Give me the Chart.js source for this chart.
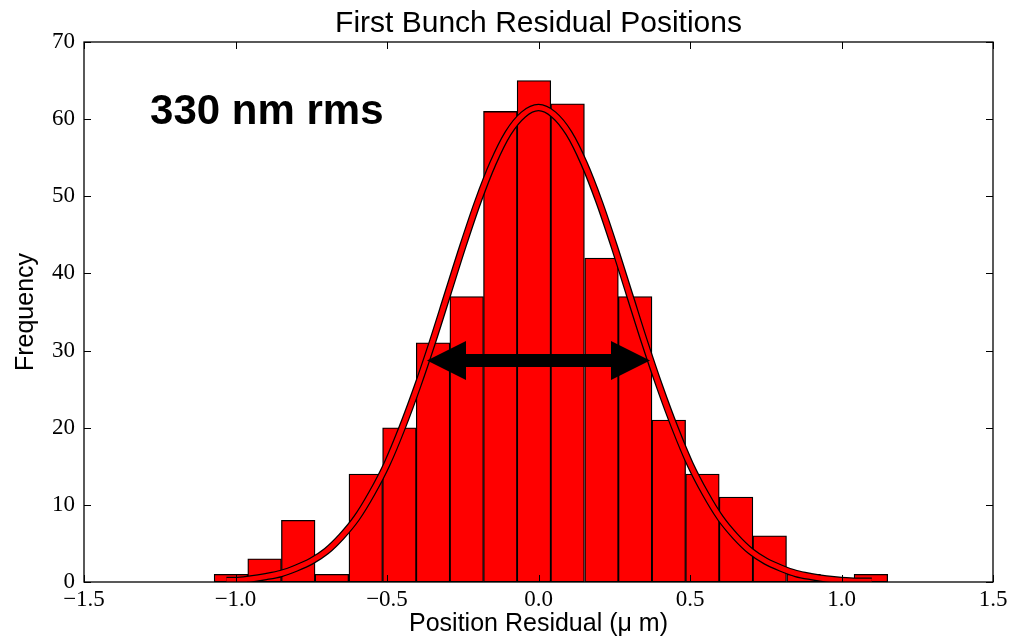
<!DOCTYPE html>
<html>
<head>
<meta charset="utf-8">
<script src="https://cdn.jsdelivr.net/npm/chart.js@4.4.1/dist/chart.umd.min.js"></script>
<style>
    html, body { margin: 0; padding: 0; background: #fff; }
    #wrap { width: 1019px; height: 637px; }
</style>
</head>
<body>
<div id="wrap"><canvas id="residualChart"></canvas></div>
<script>
const chartTitle = 'First Bunch Residual Positions';
const xAxisLabel = 'Position Residual (μ m)';
const yAxisLabel = 'Frequency';

// histogram bins (centres, um) and counts
const binCenters = [-1.015, -0.904, -0.793, -0.682, -0.570, -0.459, -0.348, -0.237, -0.126, -0.015,
                    0.096, 0.208, 0.319, 0.430, 0.541, 0.652, 0.763, 0.875, 0.986, 1.097];
const binCounts = [1, 3, 8, 1, 14, 20, 31, 37, 61, 65, 62, 42, 37, 21, 14, 11, 6, 1, 0, 1];

// fitted curve
const fitX = [-1.03, -1.0, -0.95, -0.9, -0.85, -0.8, -0.75, -0.7, -0.65, -0.6, -0.55, -0.5, -0.45, -0.4,
              -0.35, -0.3, -0.25, -0.2, -0.15, -0.1, -0.05, 0.0, 0.05, 0.1, 0.15, 0.2, 0.25, 0.3, 0.35,
              0.4, 0.45, 0.5, 0.55, 0.6, 0.65, 0.7, 0.75, 0.8, 0.85, 0.9, 0.95, 1.0, 1.05, 1.1];
const fitY = [0.2, 0.2, 0.4, 0.7, 1.1, 1.8, 2.7, 4.0, 5.9, 8.3, 11.5, 15.3, 20.0, 25.3,
              31.1, 37.3, 43.5, 49.3, 54.3, 58.2, 60.6, 61.5, 60.6, 58.2, 54.3, 49.3, 43.5, 37.3, 31.1,
              25.3, 20.0, 15.3, 11.5, 8.3, 5.9, 4.0, 2.7, 1.8, 1.1, 0.7, 0.4, 0.2, 0.1, 0.1];

// rms arrow and note
const arrowX = [-0.368, 0.368];
const arrowY = 28.7;
const noteText = '330 nm rms';
const noteX = -1.282;
const noteY = 59.4;

const xTicks = [-1.5, -1.0, -0.5, 0.0, 0.5, 1.0, 1.5];
const yTicks = [0, 10, 20, 30, 40, 50, 60, 70];

const tickFont = { family: 'Liberation Serif', size: 23 };
const labelFont = { family: 'Liberation Sans', size: 25, lineHeight: 1.0 };

const decorPlugin = {
    id: 'decor',
    afterDatasetsDraw(chart) {
        const ctx = chart.ctx;
        const xs = chart.scales.x, ys = chart.scales.y;
        const x1 = xs.getPixelForValue(arrowX[0]);
        const x2 = xs.getPixelForValue(arrowX[1]);
        const y = ys.getPixelForValue(arrowY);
        const head = 39, half = 19.5, shaft = 6.5;
        ctx.save();
        ctx.fillStyle = '#000';
        ctx.beginPath();
        ctx.moveTo(x1, y);
        ctx.lineTo(x1 + head, y - half);
        ctx.lineTo(x1 + head, y - shaft);
        ctx.lineTo(x2 - head, y - shaft);
        ctx.lineTo(x2 - head, y - half);
        ctx.lineTo(x2, y);
        ctx.lineTo(x2 - head, y + half);
        ctx.lineTo(x2 - head, y + shaft);
        ctx.lineTo(x1 + head, y + shaft);
        ctx.lineTo(x1 + head, y + half);
        ctx.closePath();
        ctx.fill();

        ctx.font = 'bold 42px "Liberation Sans"';
        ctx.textAlign = 'left';
        ctx.textBaseline = 'alphabetic';
        ctx.fillText(noteText, xs.getPixelForValue(noteX), ys.getPixelForValue(noteY));
        ctx.restore();
    },
    afterDraw(chart) {
        const ctx = chart.ctx;
        const a = chart.chartArea;
        const xs = chart.scales.x, ys = chart.scales.y;
        ctx.save();
        ctx.strokeStyle = '#000';
        ctx.lineWidth = 1;
        ctx.beginPath();
        xTicks.forEach(v => {
            const px = Math.round(xs.getPixelForValue(v)) + 0.5;
            ctx.moveTo(px, a.bottom); ctx.lineTo(px, a.bottom - 7);
            ctx.moveTo(px, a.top); ctx.lineTo(px, a.top + 7);
        });
        yTicks.forEach(v => {
            const py = Math.round(ys.getPixelForValue(v)) + 0.5;
            ctx.moveTo(a.left, py); ctx.lineTo(a.left + 7, py);
            ctx.moveTo(a.right, py); ctx.lineTo(a.right - 7, py);
        });
        ctx.stroke();
        ctx.lineWidth = 1.3;
        ctx.strokeRect(a.left, a.top, a.right - a.left, a.bottom - a.top);

        ctx.fillStyle = '#000';
        ctx.font = '30px "Liberation Sans"';
        ctx.textAlign = 'center';
        ctx.textBaseline = 'alphabetic';
        ctx.fillText(chartTitle, (a.left + a.right) / 2, 32);
        ctx.restore();
    }
};

function renderResidualChart() {
    const ctx = document.getElementById('residualChart').getContext('2d');

    new Chart(ctx, {
        type: 'bar',
        data: {
            datasets: [
                {
                    type: 'line',
                    label: 'fit',
                    data: fitX.map((x, i) => ({ x, y: fitY[i] })),
                    borderColor: '#ff0000',
                    borderWidth: 5,
                    pointRadius: 0,
                    cubicInterpolationMode: 'monotone',
                    order: 0
                },
                {
                    type: 'line',
                    label: 'fit outline',
                    data: fitX.map((x, i) => ({ x, y: fitY[i] })),
                    borderColor: '#000',
                    borderWidth: 7.5,
                    pointRadius: 0,
                    cubicInterpolationMode: 'monotone',
                    order: 1
                },
                {
                    label: 'Frequency',
                    data: binCenters.map((x, i) => ({ x, y: binCounts[i] })),
                    backgroundColor: '#ff0000',
                    borderColor: '#000',
                    borderWidth: 1.3,
                    borderSkipped: false,
                    barPercentage: 1,
                    categoryPercentage: 1,
                    grouped: false,
                    order: 2
                }
            ]
        },
        options: {
            responsive: true,
            maintainAspectRatio: false,
            animation: false,
            layout: { padding: { left: 0, right: 26, top: 42, bottom: 0 } },
            plugins: {
                legend: { display: false },
                tooltip: { enabled: false },
                title: { display: false }
            },
            scales: {
                x: {
                    type: 'linear',
                    min: -1.5,
                    max: 1.5,
                    offset: false,
                    afterBuildTicks: s => { s.ticks = xTicks.map(v => ({ value: v })); },
                    afterFit: s => { s.height = 55; },
                    grid: { display: false, drawTicks: false },
                    border: { display: false },
                    ticks: {
                        color: '#000',
                        font: tickFont,
                        padding: 4,
                        maxRotation: 0,
                        callback: v => v.toFixed(1).replace('-', '\u2212')
                    },
                    title: {
                        display: true,
                        text: xAxisLabel,
                        color: '#000',
                        font: labelFont,
                        padding: { top: 0, bottom: 0 }
                    }
                },
                y: {
                    min: 0,
                    max: 70,
                    afterBuildTicks: s => { s.ticks = yTicks.map(v => ({ value: v })); },
                    afterFit: s => { s.width = 84; },
                    grid: { display: false, drawTicks: false },
                    border: { display: false },
                    ticks: {
                        color: '#000',
                        font: tickFont,
                        padding: 9
                    },
                    title: {
                        display: true,
                        text: yAxisLabel,
                        color: '#000',
                        font: labelFont,
                        padding: { top: 14, bottom: 0 }
                    }
                }
            }
        },
        plugins: [decorPlugin]
    });
}

document.addEventListener('DOMContentLoaded', () => {
    renderResidualChart();
});
</script>
</body>
</html>
